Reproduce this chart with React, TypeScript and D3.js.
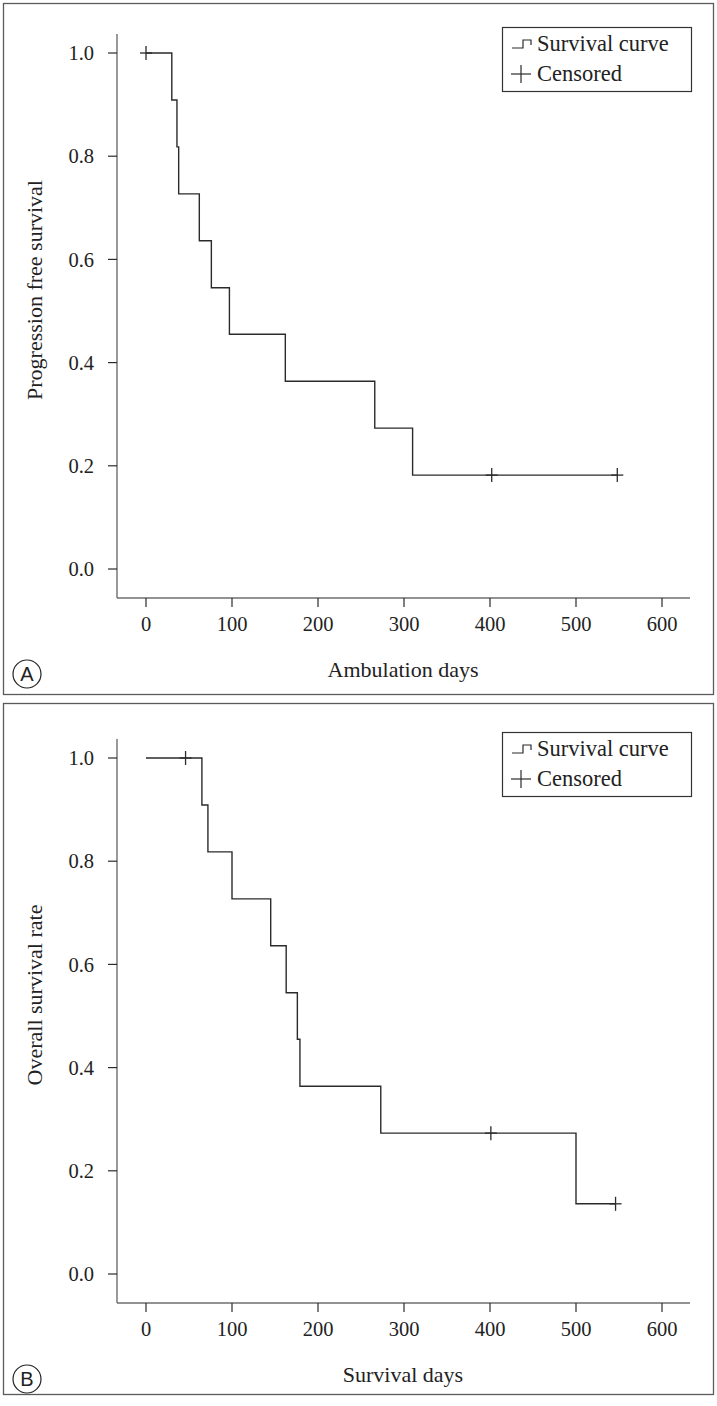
import React from "react";
import * as d3 from "d3";

// Panel A: progression free survival
const pfsTimes = [0, 30, 36, 38, 62, 76, 97, 162, 266, 310, 548];
const pfsSurv = [1.0, 0.909, 0.818, 0.727, 0.636, 0.545, 0.455, 0.364, 0.273, 0.182, 0.182];
const pfsCensored = [0, 402, 548];

// Panel B: overall survival
const osTimes = [0, 65, 72, 100, 145, 163, 176, 179, 273, 500, 546];
const osSurv = [1.0, 0.909, 0.818, 0.727, 0.636, 0.545, 0.455, 0.364, 0.273, 0.136, 0.136];
const osCensored = [46, 401, 546];

const xTicks = [0, 100, 200, 300, 400, 500, 600];
const yTicks = [0, 0.2, 0.4, 0.6, 0.8, 1.0];
const legendLabels = ["Survival curve", "Censored"];

const FONT = "'Liberation Serif', 'DejaVu Serif', serif";
const LINE = "#2b2b2b";
const AXIS = "#6e6e6e";

type PanelProps = {
  offY: number;
  borderOffY: number;
  times: number[];
  surv: number[];
  censored: number[];
  yLabel: string;
  xLabel: string;
  letter: string;
};

function survAt(times: number[], surv: number[], t: number) {
  let v = surv[0];
  for (let i = 0; i < times.length; i++) if (times[i] <= t) v = surv[i];
  return v;
}

function Panel({ offY, borderOffY, times, surv, censored, yLabel, xLabel, letter }: PanelProps) {
  const x = d3.scaleLinear().domain([0, 600]).range([146, 662]);
  const y = d3.scaleLinear().domain([0, 1]).range([569 + offY, 53 + offY]);
  const pts: [number, number][] = times.map((t, i) => [x(t), y(surv[i])]);
  const line = d3.line().curve(d3.curveStepAfter)(pts) || "";
  const axisY = 598 + offY;
  const axisX = 117;
  return (
    <g>
      <rect x={3.5} y={3.5 + borderOffY} width={710} height={691} fill="none" stroke="#5a5a5a" strokeWidth={1.3} />
      {/* axes */}
      <line x1={axisX} x2={axisX} y1={34 + offY} y2={axisY} stroke={AXIS} strokeWidth={1.4} />
      <line x1={axisX} x2={690} y1={axisY} y2={axisY} stroke={AXIS} strokeWidth={1.4} />
      {yTicks.map((t) => (
        <g key={"y" + t}>
          <line x1={axisX - 9} x2={axisX} y1={y(t)} y2={y(t)} stroke={LINE} strokeWidth={1.2} />
          <text x={94} y={y(t)} dy="0.35em" textAnchor="end" fontFamily={FONT} fontSize={20.5} fill="#222">
            {d3.format(".1f")(t)}
          </text>
        </g>
      ))}
      {xTicks.map((t) => (
        <g key={"x" + t}>
          <line x1={x(t)} x2={x(t)} y1={axisY} y2={axisY + 9} stroke={LINE} strokeWidth={1.2} />
          <text x={x(t)} y={axisY + 33} textAnchor="middle" fontFamily={FONT} fontSize={20.5} fill="#222">
            {t}
          </text>
        </g>
      ))}
      <text x={403} y={677 + offY} textAnchor="middle" fontFamily={FONT} fontSize={22} fill="#222">
        {xLabel}
      </text>
      <text
        transform={`translate(42,${290 + offY}) rotate(-90)`}
        textAnchor="middle"
        fontFamily={FONT}
        fontSize={22}
        fill="#222"
      >
        {yLabel}
      </text>
      {/* curve */}
      <path d={line} fill="none" stroke={LINE} strokeWidth={1.4} />
      {censored.map((c, i) => {
        const cx = x(c);
        const cy = y(survAt(times, surv, c));
        return (
          <g key={"c" + i} stroke={LINE} strokeWidth={1.3}>
            <line x1={cx - 6} x2={cx + 6} y1={cy} y2={cy} />
            <line x1={cx} x2={cx} y1={cy - 7} y2={cy + 7} />
          </g>
        );
      })}
      {/* legend */}
      <rect x={502.5} y={27.5 + offY} width={189} height={64} fill="#fff" stroke="#333" strokeWidth={1.2} />
      <path
        d={`M512,${48 + offY} H523 V${40 + offY} H531 V${45 + offY}`}
        fill="none"
        stroke={LINE}
        strokeWidth={1.2}
      />
      <text x={537} y={51 + offY} fontFamily={FONT} fontSize={22.5} fill="#222">
        {legendLabels[0]}
      </text>
      <g stroke={LINE} strokeWidth={1.2}>
        <line x1={511} x2={531} y1={74 + offY} y2={74 + offY} />
        <line x1={521} x2={521} y1={65 + offY} y2={83 + offY} />
      </g>
      <text x={537} y={81 + offY} fontFamily={FONT} fontSize={22.5} fill="#222">
        {legendLabels[1]}
      </text>
      {/* panel letter */}
      <circle cx={27} cy={674 + offY} r={14} fill="#fff" stroke="#222" strokeWidth={1.2} />
      <text x={27} y={674 + offY} dy="0.36em" textAnchor="middle" fontFamily="'Liberation Sans', Arial, sans-serif" fontSize={20} fill="#222">
        {letter}
      </text>
    </g>
  );
}

export default function App() {
  return (
    <svg
      width={717}
      height={1406}
      style={{ position: "absolute", left: 0, top: 0, background: "#fff" }}
    >
      <rect x={0} y={0} width={717} height={1406} fill="#fff" />
      <Panel
        offY={0}
        borderOffY={0}
        times={pfsTimes}
        surv={pfsSurv}
        censored={pfsCensored}
        yLabel="Progression free survival"
        xLabel="Ambulation days"
        letter="A"
      />
      <Panel
        offY={705}
        borderOffY={700}
        times={osTimes}
        surv={osSurv}
        censored={osCensored}
        yLabel="Overall survival rate"
        xLabel="Survival days"
        letter="B"
      />
    </svg>
  );
}
